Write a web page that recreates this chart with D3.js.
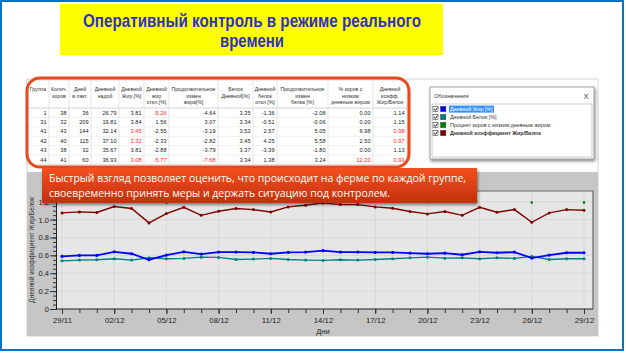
<!DOCTYPE html>
<html>
<head>
<meta charset="utf-8">
<script src="https://cdn.jsdelivr.net/npm/d3@7"></script>
<style>
    html, body { margin: 0; padding: 0; background: #fff; }
    svg { display: block; font-family: "Liberation Sans", Arial, sans-serif; }
</style>
</head>
<body>
<div id="slide"></div>
<script>

// ---- data ----
const days = ["29/11", "30/11", "01/12", "02/12", "03/12", "04/12", "05/12", "06/12", "07/12", "08/12",
    "09/12", "10/12", "11/12", "12/12", "13/12", "14/12", "15/12", "16/12", "17/12", "18/12",
    "19/12", "20/12", "21/12", "22/12", "23/12", "24/12", "25/12", "26/12", "27/12", "28/12", "29/12"];
const labelDays = ["29/11", "02/12", "05/12", "08/12", "11/12", "14/12", "17/12", "20/12", "23/12", "26/12", "29/12"];
const yTicks = [0, 0.2, 0.4, 0.6, 0.8, 1.0, 1.2];

const fatProteinRatio = [1.075, 1.086, 1.08, 1.146, 1.124, 0.963, 1.067, 1.138, 1.048, 1.094,
    1.124, 1.112, 1.086, 1.142, 1.161, 1.187, 1.168, 1.168, 1.142, 1.127,
    1.09, 1.064, 1.09, 1.048, 1.138, 1.082, 1.112, 0.97, 1.075, 1.112, 1.105];
const dailyFat = [0.588, 0.599, 0.599, 0.64, 0.618, 0.551, 0.603, 0.64, 0.614, 0.637,
    0.637, 0.633, 0.618, 0.633, 0.637, 0.652, 0.637, 0.637, 0.633, 0.633,
    0.625, 0.618, 0.625, 0.607, 0.64, 0.629, 0.637, 0.57, 0.603, 0.629, 0.629];
const dailyProtein = [0.539, 0.547, 0.551, 0.562, 0.547, 0.573, 0.562, 0.566, 0.58, 0.577,
    0.554, 0.558, 0.566, 0.554, 0.547, 0.543, 0.551, 0.547, 0.554, 0.562,
    0.573, 0.58, 0.569, 0.573, 0.562, 0.573, 0.566, 0.588, 0.554, 0.562, 0.562];
const lowFatCows = [null, null, null, null, null, null, 1.19, null, null, null,
    null, null, null, null, null, null, null, null, null, null,
    null, null, null, null, null, null, null, 1.19, null, null, 1.19];

const tableHeaders = [
    ["Группа"], ["Колич.", "коров"], ["Дней", "в лакт."], ["Дневной", "надой"], ["Дневной", "Жир [%]"],
    ["Дневной", "жир", "откл.[%]"], ["Продолжительное", "измен", "жира[%]"], ["Белок", "Дневной[%]"],
    ["Дневной", "белок", "откл.[%]"], ["Продолжительное", "измен", "белка [%]"],
    ["% коров с", "низким", "дневным жиром"], ["Дневной", "коэфф.", "Жир/Белок"]
];
const tableRows = [
    ["1", "38", "36", "26.79", "3.81", "-5.26", "-4.64", "3.35", "-1.36", "-2.08", "0.00", "1.14"],
    ["31", "32", "209", "19.81", "3.84", "1.56", "3.07", "3.34", "-0.51", "-0.06", "0.00", "1.15"],
    ["41", "43", "144", "32.14", "3.45", "-2.55", "-3.19", "3.53", "2.57", "5.05", "6.98", "0.98"],
    ["42", "40", "115", "37.10", "3.32", "-2.33", "-2.82", "3.45", "4.25", "5.58", "2.50", "0.97"],
    ["43", "38", "32", "35.67", "3.81", "-2.88", "-3.79", "3.37", "-3.39", "-1.80", "0.00", "1.13"],
    ["44", "41", "60", "36.93", "3.08", "-5.77", "-7.68", "3.34", "1.38", "3.24", "12.20", "0.93"]
];
// columns shown in red, per row
const redCells = [[5], [], [4, 11], [4, 11], [], [4, 5, 6, 10, 11]];

const legendNames = ["Дневной Жир [%]", "Дневной Белок [%]", "Процент коров с низким дневным жиром", "Дневной коэффициент Жир/Белок"];
const legendColors = ["#0000ff", "#008080", "#008000", "#800000"];

// ---- drawing ----
let W = 626, H = 353;
let svg = d3.select("#slide").append("svg")
    .attr("width", W)
    .attr("height", H);

let defs = svg.append("defs");
let grad = defs.append("linearGradient").attr("id", "banner").attr("x1", 0).attr("y1", 0).attr("x2", 0).attr("y2", 1);
grad.append("stop").attr("offset", "0%").attr("stop-color", "#f5501e");
grad.append("stop").attr("offset", "100%").attr("stop-color", "#c2300c");
let shadow = defs.append("filter").attr("id", "shadow").attr("x", "-10%").attr("y", "-20%").attr("width", "120%").attr("height", "160%");
shadow.append("feDropShadow").attr("dx", 1).attr("dy", 2).attr("stdDeviation", 1.5).attr("flood-color", "#000").attr("flood-opacity", 0.45);

// slide frame
svg.append("rect")
    .attr("x", 1).attr("y", 1).attr("width", 622).attr("height", 349)
    .attr("fill", "#fff").attr("stroke", "#0a72c0").attr("stroke-width", 2);

// title
svg.append("rect")
    .attr("x", 60).attr("y", 4).attr("width", 383).attr("height", 51)
    .attr("fill", "#ffff00");
let titleLines = [["Оперативный контроль в режиме реального", 26.5, 338], ["времени", 46.5, 64]];
titleLines.forEach(d => {
    svg.append("text")
        .attr("x", 252).attr("y", d[1])
        .attr("text-anchor", "middle")
        .attr("textLength", d[2]).attr("lengthAdjust", "spacingAndGlyphs")
        .attr("font-size", 19).attr("font-weight", "bold")
        .attr("fill", "#3030c8")
        .text(d[0]);
});

// app window background
svg.append("rect")
    .attr("x", 27).attr("y", 79).attr("width", 571).attr("height", 257)
    .attr("fill", "#fdfdfd").attr("stroke", "#d6d6d6");

// ---- table ----
let colEdges = [27, 49, 69, 91, 119, 144, 169, 218, 253, 277, 328, 373, 407];
let tableTop = 80, headBottom = 108, rowH = 9.4;
let table = svg.append("g").attr("font-size", 5.6).attr("fill", "#222");

table.append("rect")
    .attr("x", colEdges[0]).attr("y", tableTop)
    .attr("width", colEdges[colEdges.length - 1] - colEdges[0])
    .attr("height", headBottom - tableTop + rowH * tableRows.length)
    .attr("fill", "#fff").attr("stroke", "#c8c8c8").attr("stroke-width", 0.6);

tableHeaders.forEach((lines, i) => {
    let cx = (colEdges[i] + colEdges[i + 1]) / 2;
    lines.forEach((t, j) => {
        table.append("text")
            .attr("x", cx).attr("y", tableTop + 11 + j * 6.6)
            .attr("text-anchor", "middle")
            .attr("font-size", 5.2)
            .attr("fill", "#333")
            .text(t);
    });
});
for (let i = 1; i < colEdges.length - 1; i++) {
    table.append("line")
        .attr("x1", colEdges[i]).attr("x2", colEdges[i])
        .attr("y1", tableTop).attr("y2", headBottom + rowH * tableRows.length)
        .attr("stroke", "#d4d4d4").attr("stroke-width", 0.6);
}
for (let r = 0; r <= tableRows.length; r++) {
    table.append("line")
        .attr("x1", colEdges[0]).attr("x2", colEdges[colEdges.length - 1])
        .attr("y1", headBottom + r * rowH).attr("y2", headBottom + r * rowH)
        .attr("stroke", r == 0 ? "#b8b8b8" : "#e6e6e6").attr("stroke-width", 0.6);
}
tableRows.forEach((row, r) => {
    row.forEach((v, c) => {
        table.append("text")
            .attr("x", colEdges[c + 1] - 2.5)
            .attr("y", headBottom + r * rowH + 6.6)
            .attr("text-anchor", "end")
            .attr("fill", redCells[r].includes(c) ? "#ff2020" : "#222")
            .text(v);
    });
});

// orange highlight round the table
svg.append("rect")
    .attr("x", 27).attr("y", 78).attr("width", 382).attr("height", 89)
    .attr("rx", 13).attr("ry", 13)
    .attr("fill", "none").attr("stroke", "#e8481c").attr("stroke-width", 3);

// ---- legend window ----
let lg = svg.append("g").attr("transform", "translate(430,87)");
lg.append("rect")
    .attr("width", 164).attr("height", 72)
    .attr("fill", "#fff").attr("stroke", "#8a8a8a").attr("stroke-width", 0.8)
    .attr("filter", "url(#shadow)");
lg.append("text").attr("x", 4).attr("y", 11).attr("font-size", 5.6).attr("fill", "#333").text("Обозначения");
lg.append("text").attr("x", 156).attr("y", 11.5).attr("font-size", 7).attr("text-anchor", "middle").attr("fill", "#333").text("X");
lg.append("rect")
    .attr("x", 2).attr("y", 17).attr("width", 160).attr("height", 53)
    .attr("fill", "#fff").attr("stroke", "#a8a8a8").attr("stroke-width", 0.6);
legendNames.forEach((name, i) => {
    let yy = 22 + i * 8;
    let item = lg.append("g").attr("transform", "translate(0," + yy + ")");
    item.append("rect").attr("x", 3).attr("y", -2.5).attr("width", 5).attr("height", 5)
        .attr("fill", "#fff").attr("stroke", "#444").attr("stroke-width", 0.6);
    item.append("path").attr("d", "M4,0 L5.4,1.5 L7.3,-1.4")
        .attr("fill", "none").attr("stroke", "#111").attr("stroke-width", 0.9);
    item.append("rect").attr("x", 10.5).attr("y", -2.7).attr("width", 5.4).attr("height", 5.4)
        .attr("fill", legendColors[i]).attr("stroke", "#333").attr("stroke-width", 0.4);
    if (i == 0) {
        item.append("rect").attr("x", 19).attr("y", -3.4).attr("width", 45).attr("height", 7)
            .attr("fill", "#3390ff");
    }
    item.append("text")
        .attr("x", 20).attr("y", 2)
        .attr("font-size", 5.3)
        .attr("font-weight", i == 3 ? "bold" : "normal")
        .attr("fill", i == 0 ? "#fff" : "#333")
        .text(name);
});

// ---- chart panel ----
let panel = { left: 27, top: 172, right: 598, bottom: 336 };
let plot = { left: 56, top: 191, right: 593, bottom: 309 };

svg.append("rect")
    .attr("x", panel.left).attr("y", panel.top)
    .attr("width", panel.right - panel.left).attr("height", panel.bottom - panel.top)
    .attr("fill", "#c6c6c6");
svg.append("rect")
    .attr("x", plot.left).attr("y", plot.top)
    .attr("width", plot.right - plot.left).attr("height", plot.bottom - plot.top)
    .attr("fill", "#e6e6e6");

let x = d3.scalePoint()
    .domain(days)
    .range([62, 584]);
let y = d3.scaleLinear()
    .domain([0, 1.32])
    .range([plot.bottom, plot.top]);

// grid
svg.append("g").selectAll("line").data(labelDays).join("line")
    .attr("x1", d => x(d)).attr("x2", d => x(d))
    .attr("y1", plot.top).attr("y2", plot.bottom)
    .attr("stroke", "#d2d2d2").attr("stroke-width", 0.7);
svg.append("g").selectAll("line").data(yTicks.slice(1)).join("line")
    .attr("x1", plot.left).attr("x2", plot.right)
    .attr("y1", d => y(d)).attr("y2", d => y(d))
    .attr("stroke", "#d2d2d2").attr("stroke-width", 0.7);

// frame shading top/right
svg.append("path")
    .attr("d", "M" + plot.left + "," + plot.top + " H" + plot.right + " V" + plot.bottom)
    .attr("fill", "none").attr("stroke", "#6a6a6a").attr("stroke-width", 1.2);

// y axis
let yMinor = svg.append("g")
    .attr("transform", "translate(" + plot.left + ",0)")
    .call(d3.axisLeft(y).tickValues(d3.range(0, 1.31, 0.05)).tickSize(3).tickFormat(""));
let yAxis = svg.append("g")
    .attr("transform", "translate(" + plot.left + ",0)")
    .call(d3.axisLeft(y).tickValues(yTicks).tickSize(6).tickPadding(1)
        .tickFormat(d => d == 0 ? "0" : d3.format(".1f")(d)));
[yMinor, yAxis].forEach(g => {
    g.select(".domain").attr("stroke", "#222");
    g.selectAll(".tick line").attr("stroke", "#333");
});
yAxis.selectAll(".tick text")
    .attr("font-family", "Liberation Sans, Arial, sans-serif")
    .attr("font-size", 7.5).attr("fill", "#222");

svg.append("text")
    .attr("transform", "translate(34,250) rotate(-90)")
    .attr("text-anchor", "middle")
    .attr("font-size", 6.6).attr("fill", "#333")
    .text("Дневной коэффициент Жир/Белок");

// x axis
let xMinor = svg.append("g")
    .attr("transform", "translate(0," + plot.bottom + ")")
    .call(d3.axisBottom(x).tickSize(4).tickFormat(""));
xMinor.select(".domain").attr("d", "M" + plot.left + ",0 H" + plot.right).attr("stroke", "#222");
xMinor.selectAll(".tick line").attr("stroke", "#333");
let xAxis = svg.append("g")
    .attr("transform", "translate(0," + plot.bottom + ")")
    .call(d3.axisBottom(x).tickValues(labelDays).tickSize(5).tickPadding(3));
xAxis.select(".domain").remove();
xAxis.selectAll(".tick line").attr("stroke", "#333");
xAxis.selectAll(".tick text")
    .attr("font-family", "Liberation Sans, Arial, sans-serif")
    .attr("font-size", 7.8).attr("fill", "#222");

svg.append("text")
    .attr("x", 323).attr("y", 334)
    .attr("text-anchor", "middle")
    .attr("font-size", 7.5).attr("fill", "#222")
    .text("Дни");

// series
let seriesList = [
    { values: dailyProtein, color: legendColors[1], width: 1.3, dot: 1.5 },
    { values: dailyFat, color: legendColors[0], width: 1.8, dot: 1.6 },
    { values: lowFatCows, color: legendColors[2], width: 1.2, dot: 1.3 },
    { values: fatProteinRatio, color: legendColors[3], width: 1.4, dot: 1.5 }
];
let line = d3.line()
    .defined(d => d.v != null)
    .x(d => x(d.day))
    .y(d => y(d.v));
seriesList.forEach(s => {
    let pts = days.map((day, i) => ({ day: day, v: s.values[i] }));
    svg.append("path")
        .datum(pts)
        .attr("fill", "none")
        .attr("stroke", s.color)
        .attr("stroke-width", s.width)
        .attr("d", line);
    svg.append("g").selectAll("circle")
        .data(pts.filter(d => d.v != null))
        .join("circle")
        .attr("cx", d => x(d.day)).attr("cy", d => y(d.v))
        .attr("r", s.dot)
        .attr("fill", s.color);
});

// ---- callout banner ----
let banner = svg.append("g");
banner.append("rect")
    .attr("x", 42).attr("y", 168).attr("width", 435).attr("height", 35)
    .attr("fill", "url(#banner)")
    .attr("filter", "url(#shadow)");
let bannerLines = [
    ["Быстрый взгляд позволяет оценить, что происходит на ферме по каждой группе,", 182, 417],
    ["своевременно принять меры и держать ситуацию под контролем.", 197, 341]
];
bannerLines.forEach(d => {
    banner.append("text")
        .attr("x", 49).attr("y", d[1])
        .attr("font-family", "'Open Sans', 'Noto Sans', sans-serif")
        .attr("font-size", 10.5)
        .attr("textLength", d[2]).attr("lengthAdjust", "spacingAndGlyphs")
        .attr("fill", "#fff")
        .text(d[0]);
});

</script>
</body>
</html>
